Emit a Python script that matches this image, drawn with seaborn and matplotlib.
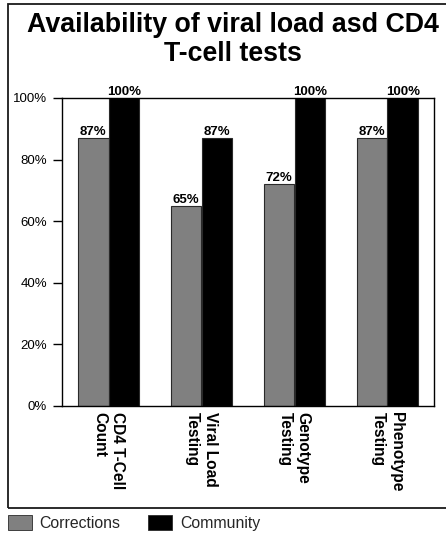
import numpy as np
import pandas as pd
import matplotlib
matplotlib.use("Agg")
import matplotlib.pyplot as plt
from matplotlib.patches import Rectangle, Patch
from matplotlib.ticker import PercentFormatter
import seaborn as sns

# Availability of tests, percent of sites
tests = ["CD4 T-Cell\nCount", "Viral Load\nTesting", "Genotype\nTesting", "Phenotype\nTesting"]
corrections = [87, 65, 72, 87]
community = [100, 87, 100, 100]
settings = ["Corrections", "Community"]
colors = {"Corrections": "#808080", "Community": "#000000"}
y_ticks = [0, 20, 40, 60, 80, 100]

df = pd.DataFrame({
    "test": tests * 2,
    "pct": corrections + community,
    "setting": [settings[0]] * len(tests) + [settings[1]] * len(tests),
})

sns.set_style("white")
plt.rcParams["font.family"] = ["Liberation Sans", "DejaVu Sans"]

W, H = 446, 535
fig = plt.figure(figsize=(W / 100, H / 100), dpi=100)
ax = fig.add_axes([62 / W, 1 - 406 / H, (434 - 62) / W, (406 - 98) / H])

sns.barplot(data=df, x="test", y="pct", hue="setting", hue_order=settings,
            palette=colors, saturation=1, width=0.66, gap=0,
            edgecolor="#2a2a2a", linewidth=0.8, legend=False, ax=ax)

for cont in ax.containers:
    ax.bar_label(cont, fmt="%.0f%%", padding=0, fontsize=9.5,
                 fontweight="bold", color="black")

ax.set_ylim(0, 100)
ax.set_xlim(-0.5, len(tests) - 0.5)
ax.set_yticks(y_ticks)
ax.yaxis.set_major_formatter(PercentFormatter(decimals=0))
ax.set_xlabel("")
ax.set_ylabel("")

# category boundaries as long ticks below the baseline
ax.set_xticks(np.arange(-0.5, len(tests), 1), minor=True)
ax.tick_params(axis="x", which="major", length=0, pad=4.5)
ax.tick_params(axis="x", which="minor", length=13.7, width=1, color="black",
               direction="out")
ax.tick_params(axis="y", which="major", length=6.5, width=1, color="black",
               direction="out", pad=4.3, labelsize=9.5, labelcolor="black",
               left=True)
for lab in ax.get_xticklabels():
    lab.set_rotation(-90)
    lab.set_ha("center")
    lab.set_va("top")
    lab.set_multialignment("left")
    lab.set_fontweight("bold")
    lab.set_fontsize(11.2)
    lab.set_color("black")

for side in ["left", "right", "top", "bottom"]:
    ax.spines[side].set_visible(True)
    ax.spines[side].set_color("black")
    ax.spines[side].set_linewidth(1.0)

# outer frame around title and plot
fig.add_artist(Rectangle((8 / W, 1 - 508 / H), 1.0, (508 - 4) / H,
                         transform=fig.transFigure, fill=False,
                         edgecolor="#1a1a1a", linewidth=1.3))

fig.text(233 / W, 1 - 12 / H, "Availability of viral load asd CD4\nT-cell tests",
         ha="center", va="top", fontsize=19.3, fontweight="bold",
         linespacing=1.15, color="black")

handles = [Patch(facecolor=colors[s], edgecolor="#2a2a2a", linewidth=0.6, label=s)
           for s in settings]
fig.legend(handles=handles, loc="center left", bbox_to_anchor=(8 / W, 1 - 523 / H),
           ncol=2, frameon=False, fontsize=11.4, handlelength=1.5, handleheight=1.1,
           handletextpad=0.5, columnspacing=1.75, borderpad=0, borderaxespad=0)

fig.savefig("out.png", dpi=100)
